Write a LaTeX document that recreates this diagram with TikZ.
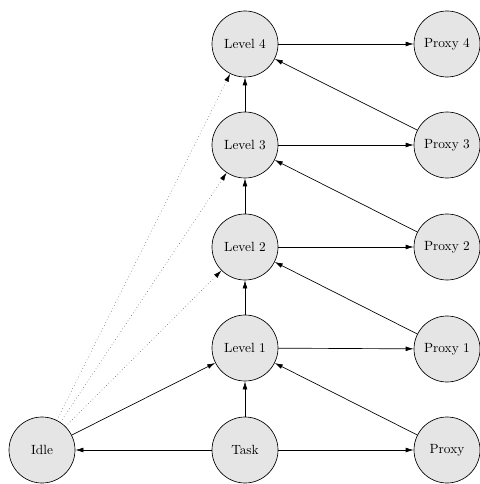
\documentclass[tikz,border=0pt]{standalone}
\usetikzlibrary{arrows.meta}
\begin{document}
\begin{tikzpicture}[x=0.75pt,y=-0.75pt,
  state/.style={circle,draw,fill=black!10,minimum size=49.5pt,inner sep=0pt,line width=0.5pt},
  link/.style={-{Latex[length=6pt,width=3.6pt]},line width=0.5pt},
  weak/.style={-{Latex[length=6pt,width=3.6pt,color=black,fill=black]},dotted,line width=0.4pt,draw=black!70}]
  \useasboundingbox (0,0) rectangle (479,484);
  \node[state] (l4) at (245,44) {Level 4};
  \node[state] (l3) at (245,145) {Level 3};
  \node[state] (l2) at (245,247) {Level 2};
  \node[state] (l1) at (245,348) {Level 1};
  \node[state] (task) at (245,450) {Task};
  \node[state] (idle) at (42,450) {Idle};
  \node[state] (p0) at (447,450) {Proxy};
  \node[state] (p1) at (447,349) {Proxy 1};
  \node[state] (p2) at (447,247) {Proxy 2};
  \node[state] (p3) at (447,145) {Proxy 3};
  \node[state] (p4) at (447,44) {Proxy 4};
  % task edges
  \draw[link] (task) -- (idle);
  \draw[link] (task) -- (p0);
  \draw[link] (task) -- (l1);
  % idle edges
  \draw[link] (idle) -- (l1);
  \draw[weak] (idle) -- (l2);
  \draw[weak] (idle) -- (l3);
  \draw[weak] (idle) -- (l4);
  % level chain
  \draw[link] (l1) -- (l2);
  \draw[link] (l2) -- (l3);
  \draw[link] (l3) -- (l4);
  % levels to proxies
  \draw[link] (l1) -- (p1);
  \draw[link] (l2) -- (p2);
  \draw[link] (l3) -- (p3);
  \draw[link] (l4) -- (p4);
  % proxies back to next level
  \draw[link] (p0) -- (l1);
  \draw[link] (p1) -- (l2);
  \draw[link] (p2) -- (l3);
  \draw[link] (p3) -- (l4);
\end{tikzpicture}
\end{document}
